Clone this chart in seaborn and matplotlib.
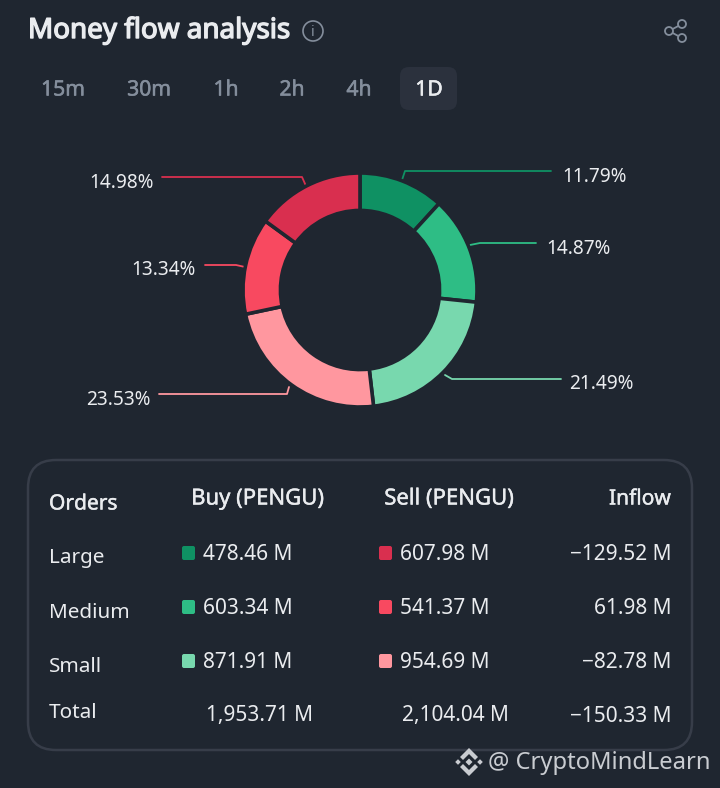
import matplotlib
matplotlib.use("Agg")
import matplotlib.pyplot as plt
import matplotlib.patheffects as pe
from matplotlib.patches import FancyBboxPatch, Circle, Polygon
import seaborn as sns

# chart data
slice_pct = [11.79, 14.87, 21.49, 23.53, 13.34, 14.98]
slice_labels = ["11.79%", "14.87%", "21.49%", "23.53%", "13.34%", "14.98%"]
slice_colors = ["#0f9163", "#2ebd85", "#78d8ae", "#ff979f", "#f84960", "#d92f4f"]

tabs = ["15m", "30m", "1h", "2h", "4h", "1D"]
headers = ["Orders", "Buy (PENGU)", "Sell (PENGU)", "Inflow"]
row_names = ["Large", "Medium", "Small", "Total"]
buy_vals = ["478.46 M", "603.34 M", "871.91 M", "1,953.71 M"]
sell_vals = ["607.98 M", "541.37 M", "954.69 M", "2,104.04 M"]
inflow_vals = ["\u2212129.52 M", "61.98 M", "\u221282.78 M", "\u2212150.33 M"]
buy_colors = ["#0f9163", "#2ebd85", "#78d8ae"]
sell_colors = ["#d92f4f", "#f84960", "#ff979f"]

BG = "#1f2630"
TXT = "#eaecef"
GREY = "#848e9c"

sns.set_theme(style="dark", rc={"figure.facecolor": BG, "axes.facecolor": BG})
plt.rcParams["font.family"] = ["Noto Sans", "DejaVu Sans"]

fig = plt.figure(figsize=(7.2, 7.88), dpi=100)

# full page axes in pixel coordinates for the text and the table
page = fig.add_axes([0, 0, 1, 1])
page.set_xlim(0, 720)
page.set_ylim(788, 0)
page.axis("off")

# fake heavier weights, the font only gives regular here
medium = [pe.withStroke(linewidth=0.3, foreground=TXT)]
heavy = [pe.withStroke(linewidth=1.0, foreground=TXT)]

# header
page.text(28, 31, "Money flow analysis", color=TXT, fontsize=20, va="center", path_effects=heavy)
page.add_patch(Circle((313, 31), 10, fill=False, ec=GREY, lw=1.2))
page.text(313, 32, "i", color=GREY, fontsize=10.5, ha="center", va="center")

# share icon
page.plot([669, 682], [31, 24], color=GREY, lw=1.3)
page.plot([669, 682], [31, 38], color=GREY, lw=1.3)
for cx, cy in [(669, 31), (682, 24), (682, 38)]:
    page.add_patch(Circle((cx, cy), 4, fc=BG, ec=GREY, lw=1.3, zorder=3))

# timeframe tabs
page.add_patch(FancyBboxPatch((409, 76), 39, 25, boxstyle="round,pad=9,rounding_size=9", fc="#2b313d", ec="none"))
tab_x = [63, 149, 226, 292, 359, 429]
for name, x in zip(tabs, tab_x):
    t = page.text(x, 90, name, color=TXT if name == "1D" else GREY, fontsize=15.2, ha="center", va="center")
    t.set_path_effects([pe.withStroke(linewidth=0.4, foreground=t.get_color())])

# donut
pie_ax = fig.add_axes([243 / 720, 1 - 407 / 788, 234 / 720, 234 / 788])
pie_ax.pie(
    slice_pct,
    colors=slice_colors,
    startangle=90,
    counterclock=False,
    radius=1.0,
    wedgeprops={"width": 0.32, "edgecolor": BG, "linewidth": 2.6},
)
pie_ax.set_xlim(-1, 1)
pie_ax.set_ylim(-1, 1)

# leader lines and labels
leaders = [
    ([402, 405, 551], [180, 171, 171], 562, 177, "left"),
    ([470, 480, 536], [245, 243, 243], 546, 249, "left"),
    ([445, 452, 561], [375, 379, 379], 569, 384, "left"),
    ([289, 287, 159], [387, 394, 394], 150.5, 400, "right"),
    ([245, 236, 205], [267, 265, 265], 195.5, 270, "right"),
    ([306, 302, 162], [186, 177, 177], 153.5, 183, "right"),
]
for (lx, ly, tx, ty, ha), label, color in zip(leaders, slice_labels, slice_colors):
    page.plot(lx, ly, color=color, lw=1.3)
    page.text(tx, ty, label, color=TXT, fontsize=13.7, ha=ha, va="center")

# table box
page.add_patch(FancyBboxPatch((56, 488), 608, 234, boxstyle="round,pad=28,rounding_size=28", fc=BG, ec="#373d49", lw=1.8))

page.text(49, 504, headers[0], color=TXT, fontsize=15.1, va="center", path_effects=medium)
page.text(257.5, 499, headers[1], color=TXT, fontsize=15.9, ha="center", va="center", path_effects=medium)
page.text(449, 499, headers[2], color=TXT, fontsize=15.9, ha="center", va="center", path_effects=medium)
page.text(671, 499, headers[3], color=TXT, fontsize=15.1, ha="right", va="center", path_effects=medium)

name_y = [558.5, 612.5, 666.5, 712.5]
val_y = [554, 608, 662, 716]
for i, name in enumerate(row_names):
    page.text(49, name_y[i], name, color=TXT, fontsize=14.9, va="center")
    page.text(671, val_y[i], inflow_vals[i], color=TXT, fontsize=15, ha="right", va="center")
    if i < 3:
        page.text(203, val_y[i], buy_vals[i], color=TXT, fontsize=15, va="center")
        page.text(400, val_y[i], sell_vals[i], color=TXT, fontsize=15, va="center")
        for x0, color in [(184, buy_colors[i]), (381, sell_colors[i])]:
            page.add_patch(FancyBboxPatch((x0, val_y[i] - 6), 9, 10, boxstyle="round,pad=2,rounding_size=2", fc=color, ec="none"))
    else:
        page.text(259, val_y[i], buy_vals[i], color=TXT, fontsize=15, ha="center", va="center")
        page.text(455.5, val_y[i], sell_vals[i], color=TXT, fontsize=15, ha="center", va="center")

# watermark, binance style logo
wm = "#c9ccd1"
page.add_patch(Polygon([(469, 748), (478, 757), (475, 760), (469, 754), (463, 760), (460, 757)], fc=wm, ec="none"))
page.add_patch(Polygon([(469, 776), (478, 767), (475, 764), (469, 770), (463, 764), (460, 767)], fc=wm, ec="none"))
for cx, cy, r in [(458, 762, 2.8), (480, 762, 2.8), (469, 762, 3.5)]:
    page.add_patch(Polygon([(cx, cy - r), (cx + r, cy), (cx, cy + r), (cx - r, cy)], fc=wm, ec="none"))
page.text(488, 763, "@ CryptoMindLearn", color=wm, fontsize=17.1, va="center")

fig.savefig("out.png", dpi=100, facecolor=BG)
